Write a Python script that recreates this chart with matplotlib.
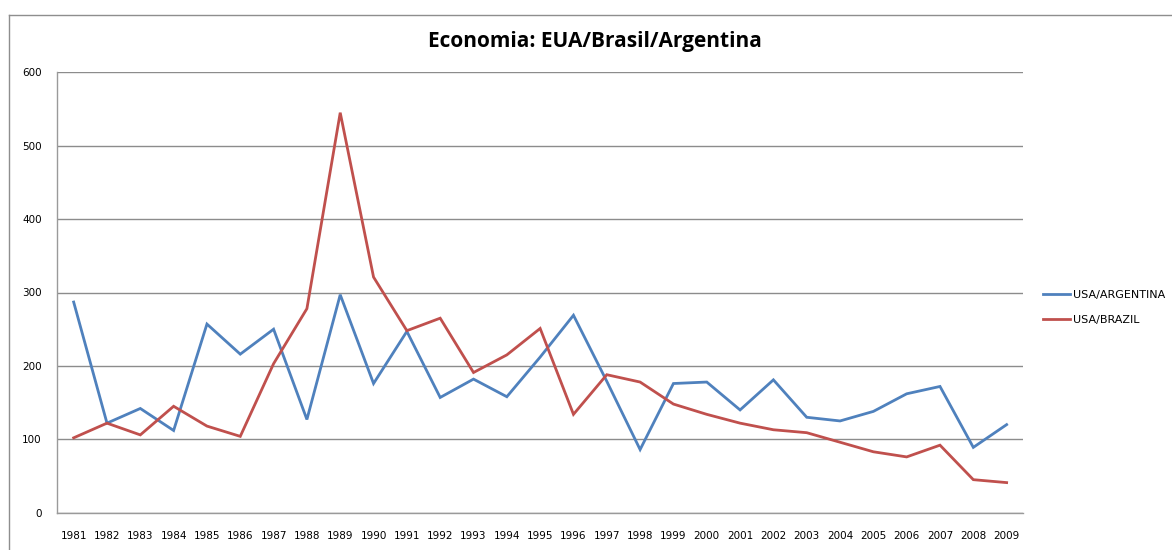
import matplotlib
matplotlib.use("Agg")
import matplotlib.pyplot as plt
from matplotlib.lines import Line2D

years = [str(y) for y in range(1981, 2010)]
usa_argentina = [287, 122, 142, 112, 257, 216, 250, 127, 297, 176,
                 247, 157, 182, 158, 212, 269, 179, 86, 176, 178,
                 140, 181, 130, 125, 138, 162, 172, 89, 120]
usa_brazil = [102, 122, 106, 145, 118, 104, 203, 278, 545, 321,
              248, 265, 191, 215, 251, 134, 188, 178, 148, 134,
              122, 113, 109, 96, 83, 76, 92, 45, 41]
yticks = [0, 100, 200, 300, 400, 500, 600]

blue = "#4F81BD"
red = "#C0504D"
grid_col = "#8C8C8C"

W, H = 1172, 550
fig = plt.figure(figsize=(W / 100, H / 100), dpi=100)
fig.patch.set_facecolor("white")

# outer chart frame (left and top edges visible)
fig.add_artist(Line2D([8.5 / W, 8.5 / W], [0, 1 - 14.5 / H], transform=fig.transFigure,
                      color="#8E8E8E", lw=1.0))
fig.add_artist(Line2D([8.5 / W, 1], [1 - 14.5 / H, 1 - 14.5 / H], transform=fig.transFigure,
                      color="#8E8E8E", lw=1.0))

left, right = 57 / W, 1023.3 / W
bottom, top = 1 - 512.7 / H, 1 - 72.3 / H
ax = fig.add_axes([left, bottom, right - left, top - bottom])

x = list(range(len(years)))
ax.plot(x, usa_argentina, color=blue, lw=2.0, label="USA/ARGENTINA", solid_joinstyle="miter")
ax.plot(x, usa_brazil, color=red, lw=2.0, label="USA/BRAZIL", solid_joinstyle="miter")

ax.set_xlim(-0.5, len(years) - 0.5)
ax.set_ylim(0, 600)
ax.set_yticks(yticks)
ax.set_yticklabels([str(v) for v in yticks], fontsize=7.5, family="DejaVu Sans")
ax.set_xticks(x)
ax.set_xticklabels(years, fontsize=7.5, family="DejaVu Sans")
ax.tick_params(axis="both", length=0)
ax.tick_params(axis="y", pad=11)
ax.tick_params(axis="x", pad=13)

ax.yaxis.grid(True, color=grid_col, lw=1.0)
ax.set_axisbelow(True)
for side in ("top", "right"):
    ax.spines[side].set_visible(False)
for side in ("left", "bottom"):
    ax.spines[side].set_color("#9A9A9A")
    ax.spines[side].set_linewidth(1.0)

fig.text(595 / W, 1 - 41 / H, "Economia: EUA/Brasil/Argentina", ha="center", va="center",
         fontsize=15, fontweight="bold", family="Open Sans")

leg = fig.legend(loc="upper left", bbox_to_anchor=(1043 / W, 1 - 290 / H),
                 frameon=False, fontsize=8, handlelength=2.4, handletextpad=0.3,
                 labelspacing=1.35, borderaxespad=0, borderpad=0)

fig.savefig("out.png", dpi=100)
